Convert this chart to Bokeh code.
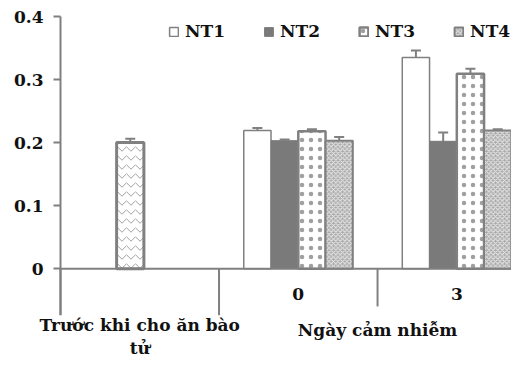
from bokeh.plotting import figure
from bokeh.models import (ColumnDataSource, Whisker, TeeHead, Legend, LegendItem,
                          FixedTicker, CustomJSTickFormatter, Label)
from bokeh.embed import file_html
from bokeh.resources import INLINE

# ---- data ----
before_label = "Trước khi cho ăn bào\ntử"
axis_group_label = "Ngày cảm nhiễm"
day_labels = ["0", "3"]
before_val = [0.200]
before_err = [0.006]
nt1 = [0.219, 0.335]
nt1_err = [0.004, 0.011]
nt2 = [0.203, 0.202]
nt2_err = [0.002, 0.014]
nt3 = [0.218, 0.309]
nt3_err = [0.003, 0.008]
nt4 = [0.203, 0.219]
nt4_err = [0.006, 0.002]
series_names = ["NT1", "NT2", "NT3", "NT4"]
y_ticks = [0, 0.1, 0.2, 0.3, 0.4]

FONT = "DejaVu Serif"
GRAY = "#808080"
TXT = "#111111"
BW = 0.172  # bar width in category units
X0, X1 = -0.3785, 2.845
Y0, Y1 = -0.141, 0.4254

p = figure(width=511, height=357, output_backend="svg", toolbar_location=None,
           x_range=(X0, X1), y_range=(Y0, Y1),
           min_border_left=0, min_border_top=0, min_border_right=0, min_border_bottom=0)
p.outline_line_color = None
p.xgrid.visible = False
p.ygrid.visible = False
p.xaxis.visible = False

ya = p.yaxis[0]
ya.fixed_location = 0
ya.bounds = (Y0, y_ticks[-1])
ya.ticker = FixedTicker(ticks=y_ticks)
ya.formatter = CustomJSTickFormatter(code="return tick == 0 ? '0' : tick.toFixed(1);")
ya.axis_line_color = GRAY
ya.axis_line_width = 2
ya.major_tick_line_color = GRAY
ya.major_tick_line_width = 2
ya.major_tick_out = 7
ya.major_tick_in = 0
ya.minor_tick_line_color = None
ya.major_label_standoff = 10
ya.major_label_text_font = FONT
ya.major_label_text_font_style = "bold"
ya.major_label_text_font_size = "17px"
ya.major_label_text_color = TXT

# before bar
bx = [0.5 - 0.06]
src_b = ColumnDataSource(dict(x=bx, top=before_val,
                              up=[v + e for v, e in zip(before_val, before_err)],
                              lo=[v - e for v, e in zip(before_val, before_err)]))
p.vbar(x="x", top="top", width=BW, source=src_b, fill_color="white",
       line_color=GRAY, line_width=3, hatch_pattern="horizontal_wave",
       hatch_color="#a0a0a0", hatch_scale=9, hatch_weight=1)

centers = [1.5 + i for i in range(len(day_labels))]
series = [nt1, nt2, nt3, nt4]
errs = [nt1_err, nt2_err, nt3_err, nt4_err]
offsets = [-1.5 * BW, -0.5 * BW, 0.5 * BW, 1.5 * BW]
styles = [
    dict(fill_color="white", line_color=GRAY, line_width=1.5),
    dict(fill_color="#7a7a7a", line_color="#7a7a7a", line_width=1),
    dict(fill_color="white", line_color=GRAY, line_width=2.5, hatch_pattern="dot",
         hatch_color="#a0a0a0", hatch_scale=9, hatch_weight=0.7),
    dict(fill_color="#a9a9a9", line_color=GRAY, line_width=2, hatch_pattern="diagonal_cross",
         hatch_color="#ececec", hatch_scale=4.5, hatch_weight=1),
]
renderers = []
sources = []
for vals, er, off, st in zip(series, errs, offsets, styles):
    s = ColumnDataSource(dict(x=[c + off for c in centers], top=vals,
                              up=[v + e for v, e in zip(vals, er)],
                              lo=[v - e for v, e in zip(vals, er)]))
    sources.append(s)
    renderers.append(p.vbar(x="x", top="top", width=BW, source=s, **st))

for s in [src_b] + sources:
    w = Whisker(base="x", upper="up", lower="lo", source=s, dimension="height",
                line_color=GRAY, line_width=2,
                upper_head=TeeHead(size=10, line_color=GRAY, line_width=2),
                lower_head=TeeHead(size=10, line_color=GRAY, line_width=2))
    p.add_layout(w)

# category axis lines: baseline, y-axis extension, group separators
p.segment(x0=[0, 0, 1.0, 2.0], y0=[0, 0, 0, 0], x1=[X1, 0, 1.0, 2.0], y1=[0, Y0, Y0, -0.060],
          line_color=GRAY, line_width=2)

lab_style = dict(text_font=FONT, text_font_style="bold", text_color=TXT,
                 text_align="center", text_baseline="middle")
for c, t in zip(centers, day_labels):
    p.add_layout(Label(x=c, y=-0.040, text=t, text_font_size="17px", **lab_style))
p.add_layout(Label(x=0.5, y=-0.108, text=before_label, text_font_size="17px",
                   text_line_height=1.15, background_fill_color="white", **lab_style))
p.add_layout(Label(x=2.0, y=-0.097, text=axis_group_label, text_font_size="17px",
                   background_fill_color="white", **lab_style))

legend = Legend(items=[LegendItem(label=n, renderers=[r]) for n, r in zip(series_names, renderers)],
                orientation="horizontal", location=(168, 316),
                border_line_color=None, background_fill_alpha=0,
                padding=0, margin=0, spacing=38, glyph_width=11, glyph_height=11,
                label_standoff=6, label_text_font=FONT, label_text_font_style="bold",
                label_text_font_size="17px", label_text_color=TXT)
p.add_layout(legend)

open("out.html", "w").write(file_html(p, INLINE))
